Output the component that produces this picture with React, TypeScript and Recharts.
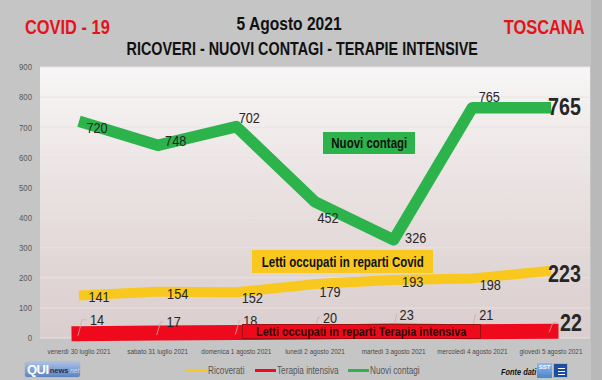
import React from 'react';
import { LineChart, Line, XAxis, YAxis, CartesianGrid, LabelList } from 'recharts';

const days = [
  'venerdì 30 luglio 2021',
  'sabato 31 luglio 2021',
  'domenica 1 agosto 2021',
  'lunedì 2 agosto 2021',
  'martedì 3 agosto 2021',
  'mercoledì 4 agosto 2021',
  'giovedì 5 agosto 2021',
];
const ricoverati = [141, 154, 152, 179, 193, 198, 223];
const terapia = [14, 17, 18, 20, 23, 21, 22];
const nuovi = [720, 640, 702, 452, 326, 765, 765];
const nuoviLabels = ['720', '748', '702', '452', '326', '765', '765'];
const yTicks = [0, 100, 200, 300, 400, 500, 600, 700, 800, 900];
const seriesNames = ['Ricoverati', 'Terapia intensiva', 'Nuovi contagi'];

const data = days.map((d, i) => ({
  day: d,
  ricoverati: ricoverati[i],
  terapia: terapia[i],
  nuovi: nuovi[i],
}));

const YELLOW = '#f8c81e';
const RED = '#ee0a1c';
const GREEN = '#2db34c';
const FONT = "'Liberation Sans', Arial, sans-serif";
const SX = 0.82;
const LABEL_COLOR = '#262626';

const gOff = [[18, 6], [18, -4.5], [13, -9.5], [13, 16], [22, -2], [17, -11]];
const yOff = [[20, 1], [20, 2], [16, 5], [15, 7], [19, 2], [18, 6]];
const rOff = [[18, -14], [16, -11], [14, -12], [15, -14.5], [13, -17], [14, -17]];

const NText = (p: {
  x: number; y: number; text: string; size: number; anchor?: string; bold?: boolean; fill?: string; italic?: boolean;
}) => (
  <text
    transform={`translate(${p.x} ${p.y}) scale(${SX} 1)`}
    x={0}
    y={0}
    textAnchor={p.anchor || 'middle'}
    dominantBaseline="central"
    fontFamily={FONT}
    fontWeight={p.bold ? 'bold' : 'normal'}
    fontStyle={p.italic ? 'italic' : 'normal'}
    fontSize={p.size}
    fill={p.fill || LABEL_COLOR}
  >
    {p.text}
  </text>
);

const N = (p: { children: React.ReactNode; origin?: string; style?: React.CSSProperties }) => (
  <span
    style={{
      display: 'inline-block',
      transform: `scaleX(${SX})`,
      transformOrigin: p.origin || 'center',
      whiteSpace: 'nowrap',
      ...(p.style || {}),
    }}
  >
    {p.children}
  </span>
);

const GreenLabel = (props: any) => {
  const { x, y, index } = props;
  const text = nuoviLabels[index];
  if (index === nuovi.length - 1) return <NText x={x - 3} y={y - 1} text={text} size={24} bold anchor="start" />;
  const [dx, dy] = gOff[index];
  return <NText x={x + dx} y={y + dy} text={text} size={15.5} />;
};

const YellowLabel = (props: any) => {
  const { x, y, index, value } = props;
  if (index === ricoverati.length - 1) return <NText x={x - 3} y={y + 3} text={String(value)} size={24} bold anchor="start" />;
  const [dx, dy] = yOff[index];
  return <NText x={x + dx} y={y + dy} text={String(value)} size={15.5} />;
};

const RedLabel = (props: any) => {
  const { x, y, index, value } = props;
  if (index === terapia.length - 1) {
    return (
      <g>
        <polyline points={`${x - 2},${y + 1} ${x + 2},${y - 9} ${x + 6},${y - 9}`} fill="none" stroke="#d8a8a8" strokeWidth={0.8} />
        <NText x={x + 9} y={y - 9} text={String(value)} size={24} bold anchor="start" />
      </g>
    );
  }
  const [dx, dy] = rOff[index];
  return (
    <g>
      <polyline
        points={`${x - 1},${y + 2} ${x + 3},${y + dy} ${x + dx - 10},${y + dy}`}
        fill="none"
        stroke="#d8a8a8"
        strokeWidth={0.8}
      />
      <NText x={x + dx} y={y + dy} text={String(value)} size={15.5} />
    </g>
  );
};

const XTick = (props: any) => {
  const { x, y, payload } = props;
  return <NText x={x} y={y + 14} text={payload.value} size={7.8} fill="#4a4a4a" />;
};

const YTick = (props: any) => {
  const { x, y, payload } = props;
  return <NText x={x - 8} y={y} text={String(payload.value)} size={9.5} fill="#595959" anchor="end" />;
};

const legendColors = [YELLOW, RED, GREEN];
const legendLeft = [186, 255, 348];

export default function App() {
  return (
    <div
      style={{
        position: 'absolute',
        left: 0,
        top: 0,
        width: 602,
        height: 380,
        overflow: 'hidden',
        background: '#c5c5c5',
        fontFamily: FONT,
      }}
    >
      <div style={{ position: 'absolute', left: 591, top: 0, width: 11, height: 380, background: '#b9b9b9' }} />
      <LineChart
        width={602}
        height={380}
        data={data}
        margin={{ top: 67, right: 12, left: 0, bottom: 12 }}
        style={{ position: 'absolute', left: 0, top: 0 }}
      >
        <defs>
          <linearGradient id="plotBg" x1="0" y1="0" x2="0" y2="1">
            <stop offset="0%" stopColor="#f8f6f6" />
            <stop offset="50%" stopColor="#e8dfdf" />
            <stop offset="100%" stopColor="#dacdcd" />
          </linearGradient>
        </defs>
        <CartesianGrid vertical={false} stroke="#e9e2e2" fill="url(#plotBg)" />
        <XAxis
          dataKey="day"
          axisLine={false}
          tickLine={false}
          tickSize={0}
          tickMargin={0}
          height={30}
          interval={0}
          padding={{ left: 39, right: 39 }}
          tick={XTick}
        />
        <YAxis
          domain={[0, 900]}
          ticks={yTicks}
          axisLine={false}
          tickLine={false}
          tickSize={0}
          tickMargin={0}
          width={40}
          tick={YTick}
        />
        <Line
          type="linear"
          dataKey="ricoverati"
          name={seriesNames[0]}
          stroke={YELLOW}
          strokeWidth={10}
          strokeLinecap="butt"
          strokeLinejoin="round"
          dot={false}
          activeDot={false}
          isAnimationActive={false}
        >
          <LabelList dataKey="ricoverati" content={YellowLabel} />
        </Line>
        <Line
          type="linear"
          dataKey="terapia"
          name={seriesNames[1]}
          stroke={RED}
          strokeWidth={15}
          strokeLinecap="square"
          strokeLinejoin="miter"
          dot={false}
          activeDot={false}
          isAnimationActive={false}
        >
          <LabelList dataKey="terapia" content={RedLabel} />
        </Line>
        <Line
          type="linear"
          dataKey="nuovi"
          name={seriesNames[2]}
          stroke={GREEN}
          strokeWidth={11.5}
          strokeLinecap="butt"
          strokeLinejoin="round"
          dot={false}
          activeDot={false}
          isAnimationActive={false}
        >
          <LabelList dataKey="nuovi" content={GreenLabel} />
        </Line>
      </LineChart>

      {/* Annotation boxes */}
      <div
        style={{
          position: 'absolute', left: 323, top: 132, width: 92, height: 22, background: GREEN,
          display: 'flex', alignItems: 'center', justifyContent: 'center',
          fontWeight: 'bold', fontSize: 14, color: '#111',
        }}
      >
        <N>Nuovi contagi</N>
      </div>
      <div
        style={{
          position: 'absolute', left: 252, top: 250, width: 181, height: 23, background: YELLOW,
          display: 'flex', alignItems: 'center', justifyContent: 'center',
          fontWeight: 'bold', fontSize: 14, color: '#111',
        }}
      >
        <N>Letti occupati in reparti Covid</N>
      </div>
      <div
        style={{
          position: 'absolute', left: 242, top: 324, width: 239, height: 15, background: RED,
          border: '1px solid #a01010', boxSizing: 'border-box',
          display: 'flex', alignItems: 'center', justifyContent: 'center',
          fontWeight: 'bold', fontSize: 13.2, color: '#2e0505', lineHeight: '13px',
        }}
      >
        <N>Letti occupati in reparti Terapia intensiva</N>
      </div>

      {/* Titles */}
      <div style={{ position: 'absolute', left: 25, top: 14, height: 26, lineHeight: '26px', fontSize: 20, fontWeight: 'bold', color: '#e3131b' }}>
        <N origin="left">COVID - 19</N>
      </div>
      <div style={{ position: 'absolute', left: 0, width: 578, top: 11, height: 26, lineHeight: '26px', fontSize: 19, fontWeight: 'bold', color: '#111', textAlign: 'center' }}>
        <N>5 Agosto 2021</N>
      </div>
      <div style={{ position: 'absolute', left: 0, width: 604, top: 37, height: 24, lineHeight: '24px', fontSize: 17.5, fontWeight: 'bold', color: '#111', textAlign: 'center' }}>
        <N>RICOVERI - NUOVI CONTAGI - TERAPIE INTENSIVE</N>
      </div>
      <div style={{ position: 'absolute', right: 17, top: 14, height: 26, lineHeight: '26px', fontSize: 20, fontWeight: 'bold', color: '#e3131b' }}>
        <N origin="right">TOSCANA</N>
      </div>

      {/* Legend */}
      {seriesNames.map((n, i) => (
        <div key={n} style={{ position: 'absolute', left: legendLeft[i], top: 363, height: 14, display: 'flex', alignItems: 'center', fontSize: 10, color: '#555' }}>
          <div style={{ width: 21, height: 3, background: legendColors[i] }} />
          <N origin="left" style={{ marginLeft: 1 }}>{n}</N>
        </div>
      ))}

      {/* QUInews logo */}
      <div
        style={{
          position: 'absolute', left: 25, top: 362, width: 55, height: 15, borderRadius: 2,
          background: 'linear-gradient(#a9c0e4, #5f82c0)', display: 'flex', alignItems: 'flex-end',
          overflow: 'hidden', boxShadow: '0 0 1px #6b82a8',
        }}
      >
        <span style={{ color: '#fff', fontWeight: 'bold', fontSize: 13, lineHeight: '15px', marginLeft: 2, letterSpacing: -0.5 }}>QUI</span>
        <span style={{ color: '#1d2f5c', fontWeight: 'bold', fontSize: 7.5, lineHeight: '12px', marginLeft: 1 }}>news</span>
        <span style={{ color: '#c8d6ef', fontStyle: 'italic', fontSize: 6.5, lineHeight: '12px' }}>.net</span>
      </div>

      {/* Fonte dati */}
      <div style={{ position: 'absolute', left: 501, top: 366, height: 12, lineHeight: '12px', fontSize: 9, fontWeight: 'bold', fontStyle: 'italic', color: '#111' }}>
        <N origin="left">Fonte dati</N>
      </div>
      <div style={{ position: 'absolute', left: 537, top: 363, width: 15, height: 15, background: 'linear-gradient(#8fb8e8, #4a86cf)', color: '#fff', fontSize: 6, fontWeight: 'bold', textAlign: 'center', lineHeight: '8px' }}>
        SST
      </div>
      <div style={{ position: 'absolute', left: 553, top: 363, width: 15, height: 15, background: '#1f4e9c', border: '0.5px solid #9bb6e0', boxSizing: 'border-box' }}>
        <div style={{ position: 'absolute', left: 4, top: 4, width: 7, height: 1, background: '#fff' }} />
        <div style={{ position: 'absolute', left: 4, top: 7, width: 7, height: 1, background: '#fff' }} />
        <div style={{ position: 'absolute', left: 4, top: 10, width: 7, height: 1, background: '#fff' }} />
      </div>
    </div>
  );
}
